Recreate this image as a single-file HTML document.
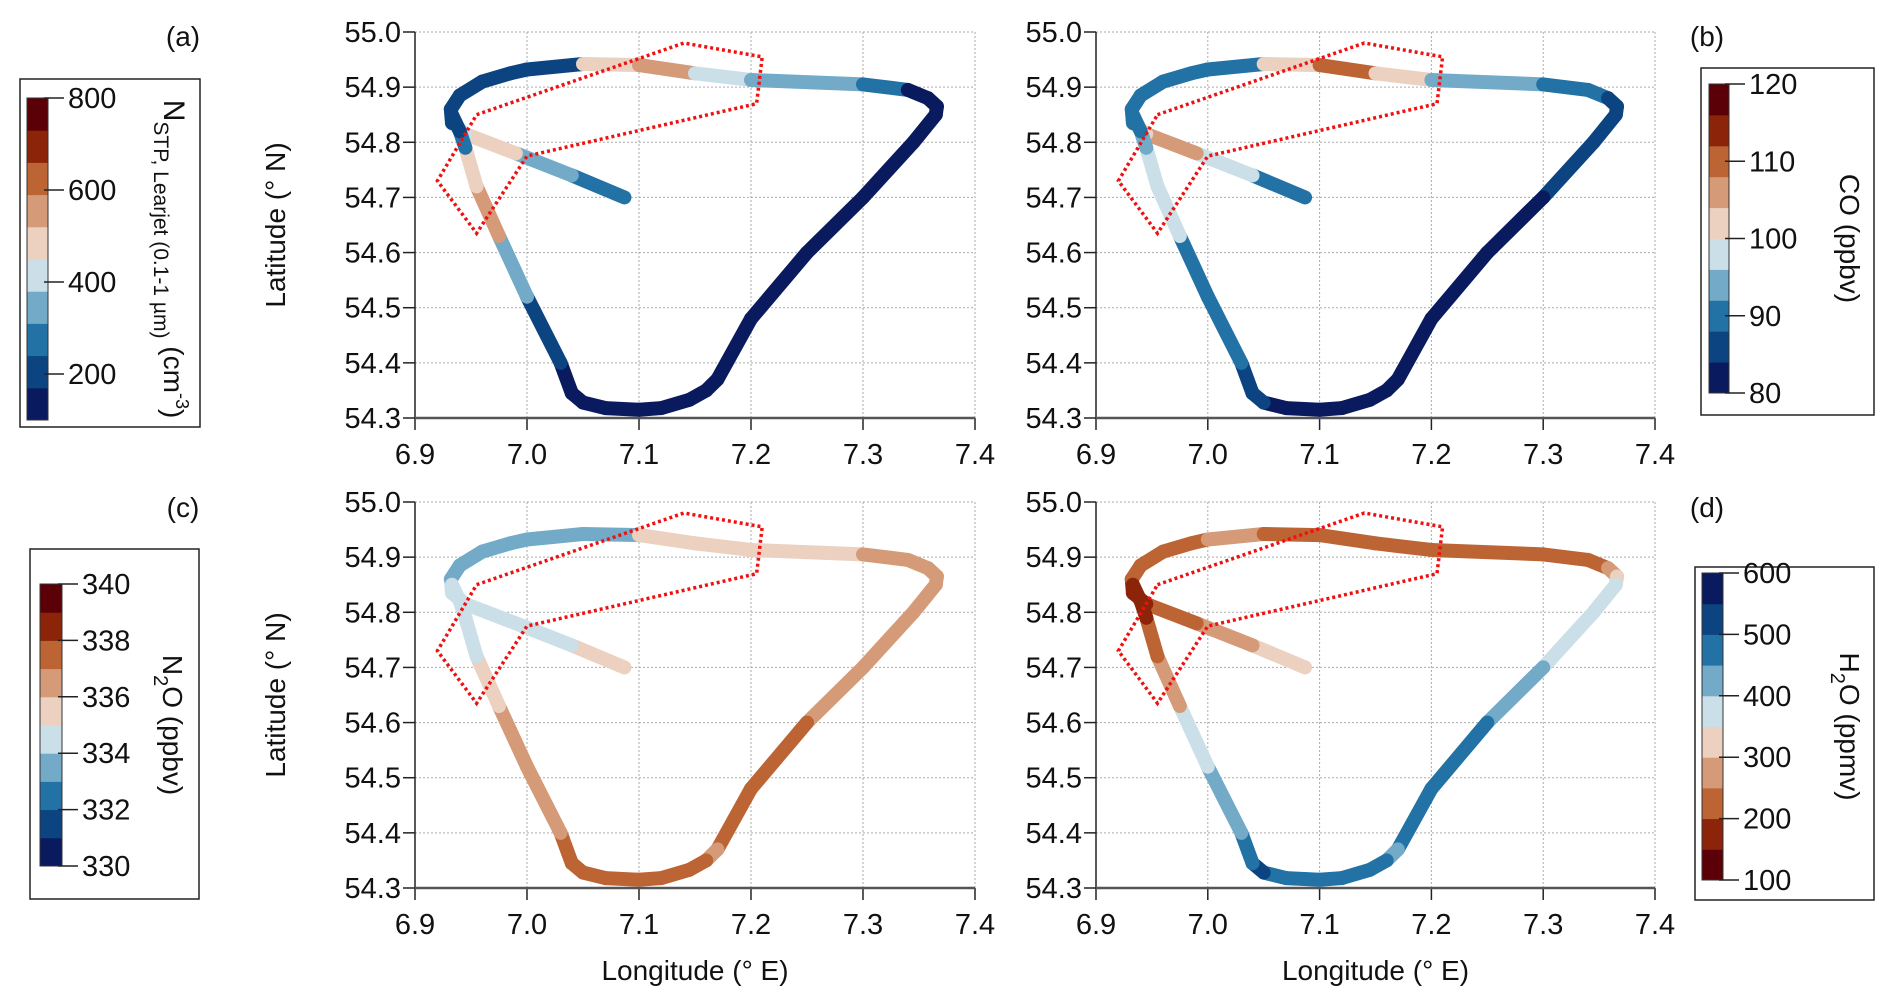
<!DOCTYPE html>
<html><head><meta charset="utf-8">
<style>
html,body{margin:0;padding:0;background:#fff;}
svg{display:block;font-family:"Liberation Sans",Arial,sans-serif;}
</style></head>
<body>
<svg id="fig" width="1892" height="1004" viewBox="0 0 1892 1004" xmlns="http://www.w3.org/2000/svg"></svg>
<script>
// ---- data ----
const trackLon = [7.087,7.04,6.99,6.945,6.933,6.932,6.94,6.96,6.985,7.0,7.05,7.1,7.15,7.2,7.3,7.34,7.358,7.366,7.365,7.345,7.3,7.25,7.2,7.17,7.16,7.145,7.12,7.1,7.07,7.05,7.04,7.03,7.0,6.975,6.955,6.945,6.94,6.933];
const trackLat = [54.70,54.74,54.78,54.815,54.835,54.86,54.885,54.91,54.925,54.932,54.942,54.94,54.925,54.913,54.905,54.895,54.88,54.865,54.85,54.80,54.70,54.60,54.48,54.37,54.35,54.333,54.318,54.315,54.318,54.328,54.345,54.40,54.52,54.63,54.72,54.79,54.82,54.85];
const valsN   = [200,350,400,600,250,220,200,190,180,230,230,720,450,400,300,200,120,110,110,110,110,110,100,110,110,110,110,110,110,110,150,150,250,400,650,250,250,200];
const valsCO  = [88,95,100,112,88,88,88,88,88,88,88,115,105,98,92,88,88,87,86,86,83,83,81,81,81,81,81,81,81,82,86,88,88,92,104,95,90,88];
const valsN2O = [336,335,334.5,334.5,334.5,334,333.5,333.5,333,333.5,333,334.5,335.5,334.5,335.5,337,336.5,336.5,336.5,336.5,336.5,337,337.5,336.5,337,337.5,337.5,337.5,337.5,337.5,337.5,336.5,336.5,335.5,334.5,334.5,334.5,334.5];
const valsH2O = [370,300,250,200,160,200,230,230,230,260,260,230,230,170,230,230,250,300,370,370,420,420,480,420,440,470,470,470,470,520,500,470,420,320,230,170,170,200];
const boxLon = [6.955,7.14,7.21,7.205,7.0,6.955,6.92,6.955];
const boxLat = [54.85,54.98,54.955,54.87,54.775,54.635,54.73,54.85];
const xTicks = [6.9,7.0,7.1,7.2,7.3,7.4];
const yTicks = [54.3,54.4,54.5,54.6,54.7,54.8,54.9,55.0];
const cbTicksN = [200,400,600,800];
const cbTicksCO = [80,90,100,110,120];
const cbTicksN2O = [330,332,334,336,338,340];
const cbTicksH2O = [100,200,300,400,500,600];

const PAL = ['#0a1a5e','#0b4480','#2272a6','#72aac8','#cbdfe8','#ecd0c0','#d59a78','#bd6434','#8b2408','#5c0008'];
const NS='http://www.w3.org/2000/svg';
const svg=document.getElementById('fig');
function el(tag,attrs,parent){const e=document.createElementNS(NS,tag);for(const k in attrs)e.setAttribute(k,attrs[k]);(parent||svg).appendChild(e);return e;}
function colorFor(v,min,max,rev){let i=Math.floor((v-min)/(max-min)*10);i=Math.max(0,Math.min(9,i));return rev?PAL[9-i]:PAL[i];}

function panel(name,x0,x1,y0,y1,vals,min,max,rev,xlab,ylab){
  const g=el('g',{});
  
  
  const sx=v=>x0+(v-6.9)/0.5*(x1-x0);
  const sy=v=>y1-(v-54.3)/0.7*(y1-y0);
  xTicks.forEach(t=>{
    const l=el('line',{x1:sx(t),x2:sx(t),y1:y0,y2:y1,stroke:'#aaa','stroke-width':1,'stroke-dasharray':'2,2'},g);
    
    
    el('line',{x1:sx(t),x2:sx(t),y1:y1,y2:y1+12,stroke:'#222','stroke-width':1.5},g);
    const tx=el('text',{x:sx(t),y:y1+46,'font-size':29,'text-anchor':'middle',fill:'#111'},g);
    tx.textContent=t.toFixed(1);
    
    
  });
  yTicks.forEach(t=>{
    const l=el('line',{x1:x0,x2:x1,y1:sy(t),y2:sy(t),stroke:'#aaa','stroke-width':1,'stroke-dasharray':'2,2'},g);
    
    
    el('line',{x1:x0-12,x2:x0,y1:sy(t),y2:sy(t),stroke:'#222','stroke-width':1.5},g);
    const tx=el('text',{x:x0-14,y:sy(t)+10,'font-size':29,'text-anchor':'end',fill:'#111'},g);
    tx.textContent=t.toFixed(1);
    
    
  });
  el('line',{x1:x0,x2:x0,y1:y0,y2:y1,stroke:'#222','stroke-width':1.5},g);
  el('line',{x1:x0,x2:x1,y1:y1,y2:y1,stroke:'#555','stroke-width':2.5},g);
  for(let i=0;i<trackLon.length-1;i++){
    const s=el('line',{x1:sx(trackLon[i]),y1:sy(trackLat[i]),x2:sx(trackLon[i+1]),y2:sy(trackLat[i+1]),stroke:colorFor((vals[i]+vals[i+1])/2,min,max,rev),'stroke-width':14,'stroke-linecap':'round'},g);
    
    
  }
  const pts=boxLon.map((v,i)=>sx(v)+','+sy(boxLat[i])).join(' ');
  const pb=el('polyline',{points:pts,fill:'none',stroke:'#f01010','stroke-width':3.5,'stroke-dasharray':'3,3'},g);
  
  
  if(xlab){const t=el('text',{x:(x0+x1)/2,y:y1+92,'font-size':28,'text-anchor':'middle',fill:'#111'},g);t.textContent='Longitude (° E)';
    
    }
  if(ylab){const t=el('text',{x:0,y:0,'font-size':28,'text-anchor':'middle',fill:'#111',transform:`translate(285,${(y0+y1)/2}) rotate(-90)`},g);t.textContent='Latitude (° N)';
    
    }
}
panel('panel-a-map',415,975,32,418,valsN,100,800,false,false,true);
panel('panel-b-map',1096,1655,32,418,valsCO,80,120,false,false,false);
panel('panel-c-map',415,975,502,888,valsN2O,330,340,false,true,true);
panel('panel-d-map',1096,1655,502,888,valsH2O,100,600,true,true,false);

function colorbar(name,bx0,by0,bx1,by1,sx0,sx1,sy0,sy1,min,max,ticks,rev,titleX,titleFn){
  const g=el('g',{});
  
  
  el('rect',{x:bx0,y:by0,width:bx1-bx0,height:by1-by0,fill:'#fff',stroke:'#222','stroke-width':1.5},g);
  const h=(sy1-sy0)/10;
  for(let i=0;i<10;i++){
    const c=rev?PAL[9-i]:PAL[i];
    const r=el('rect',{x:sx0,y:sy1-(i+1)*h,width:sx1-sx0,height:h+0.5,fill:c},g);
    
    
  }
  el('rect',{x:sx0,y:sy0,width:sx1-sx0,height:sy1-sy0,fill:'none',stroke:'#333','stroke-width':1},g);
  ticks.forEach(t=>{
    const y=sy1-(t-min)/(max-min)*(sy1-sy0);
    el('line',{x1:sx1-4,x2:sx1+16,y1:y,y2:y,stroke:'#222','stroke-width':1.5},g);
    const tx=el('text',{x:sx1+20,y:y+10,'font-size':29,fill:'#111'},g);
    tx.textContent=t;
    
    
  });
  const tt=el('text',{x:0,y:0,'font-size':28,'text-anchor':'middle',fill:'#111',transform:`translate(${titleX},${(sy0+sy1)/2}) rotate(90)`},g);
  titleFn(tt);
  
  
}
function tspan(p,txt,attrs){const s=el('tspan',attrs||{},p);s.textContent=txt;return s;}
colorbar('colorbar-a',20,79,200,427,27,48,98,420,100,800,cbTicksN,false,164,t=>{
  tspan(t,'N',{'font-size':30});tspan(t,'STP, Learjet (0.1-1 µm)',{'font-size':21,dy:10});tspan(t,' (cm',{dy:-10});tspan(t,'-3',{'font-size':18,dy:-12});tspan(t,')',{dy:12});
});
colorbar('colorbar-b',1701,68,1874,415,1709,1729,84,393,80,120,cbTicksCO,false,1840,t=>{t.textContent='CO (ppbv)';});
colorbar('colorbar-c',30,549,199,899,40,62,584,866,330,340,cbTicksN2O,false,163,t=>{tspan(t,'N');tspan(t,'2',{'font-size':20,dy:9});tspan(t,'O (ppbv)',{dy:-9});});
colorbar('colorbar-d',1695,567,1874,900,1702,1723,573,880,100,600,cbTicksH2O,true,1840,t=>{tspan(t,'H');tspan(t,'2',{'font-size':20,dy:9});tspan(t,'O (ppmv)',{dy:-9});});

[['(a)',183,46],['(b)',1707,46],['(c)',183,517],['(d)',1707,517]].forEach(([s,x,y])=>{
  const t=el('text',{x:x,y:y,'font-size':28,fill:'#111','text-anchor':'middle'});
  t.textContent=s;
  
  
});
</script>
</body></html>
